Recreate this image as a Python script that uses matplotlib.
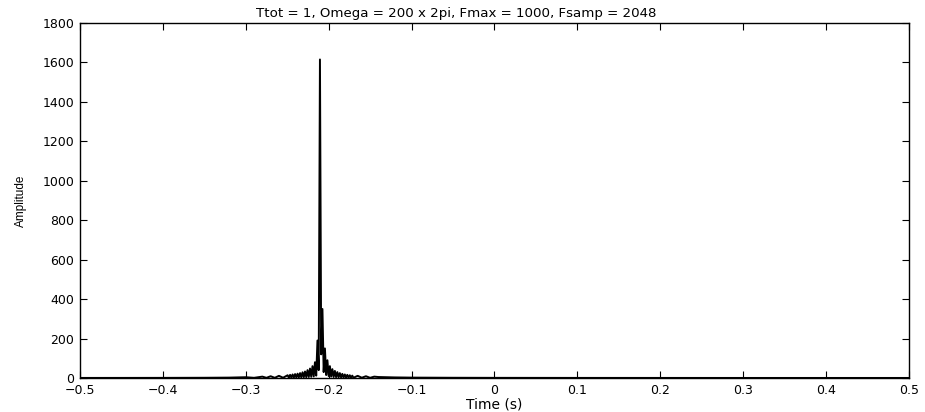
import numpy as np
import matplotlib
matplotlib.use('Agg')
import matplotlib.pyplot as plt

# spectrum (time in s, amplitude)
# sparse tails
t_left = [-0.5, -0.45, -0.40, -0.35, -0.32, -0.30, -0.29, -0.28, -0.275, -0.27,
          -0.265, -0.26, -0.255]
a_left = [0.4, 0.5, 0.7, 1.2, 2.0, 4.0, 1.0, 7, 1.0, 9,
          1.0, 11, 1.5]
t_right = [-0.165, -0.16, -0.155, -0.15, -0.145, -0.14, -0.13, -0.12, -0.10, -0.05,
           0.0, 0.1, 0.2, 0.3, 0.4, 0.5]
a_right = [11, 1.5, 9, 1.0, 7, 5, 4, 3, 2, 1.2,
           0.8, 0.5, 0.4, 0.3, 0.3, 0.3]
# dense part round the peak, sampled every 1.5 ms from -0.2495 s
t0_dense = -0.2495
dt_dense = 0.0015
a_dense = [14, 1.5, 16, 2, 18, 2, 20, 2.5, 22, 3,
           25, 3, 29, 4, 33, 4, 40, 5, 48, 6,
           60, 8, 80, 12, 190, 40, 1615, 120, 350, 30,
           150, 15, 90, 10, 60, 7, 45, 5, 36, 4,
           30, 3.5, 25, 3, 21, 2.5, 18, 2, 16, 2,
           14, 1.5, 12, 1.5]
t_dense = [t0_dense + dt_dense * k for k in range(len(a_dense))]

time = t_left + t_dense + t_right
amplitude = a_left + a_dense + a_right

xtick_vals = [-0.5, -0.4, -0.3, -0.2, -0.1, 0, 0.1, 0.2, 0.3, 0.4, 0.5]
xtick_labels = ['\u22120.5', '\u22120.4', '\u22120.3', '\u22120.2', '\u22120.1', '0',
                '0.1', '0.2', '0.3', '0.4', '0.5']
ytick_vals = [0, 200, 400, 600, 800, 1000, 1200, 1400, 1600, 1800]

plt.rcParams['font.family'] = ['DejaVu Sans']

fig = plt.figure(figsize=(9.25, 4.12), dpi=100)
ax = fig.add_axes([0.0865, 0.0825, 0.896, 0.8617])
ax.plot(time, amplitude, color='black', lw=1.4)

ax.set_xlim(-0.5, 0.5)
ax.set_ylim(0, 1800)
ax.set_xticks(xtick_vals)
ax.set_xticklabels(xtick_labels)
ax.set_yticks(ytick_vals)
ax.tick_params(direction='in', top=True, right=True, labelsize=9, length=5)
ax.tick_params(axis='x', pad=4.5)
ax.tick_params(axis='y', pad=4)
for s in ax.spines.values():
    s.set_linewidth(1.0)

ax.set_xlabel('Time (s)', fontsize=10, labelpad=0)
ax.set_ylabel('Amplitude', fontsize=8.5, family=['Liberation Sans'], labelpad=11)
ax.set_title('Ttot = 1, Omega = 200 x 2pi, Fmax = 1000, Fsamp = 2048',
             fontsize=9.6, pad=4, x=0.4535)

fig.savefig('out.png', dpi=100)
